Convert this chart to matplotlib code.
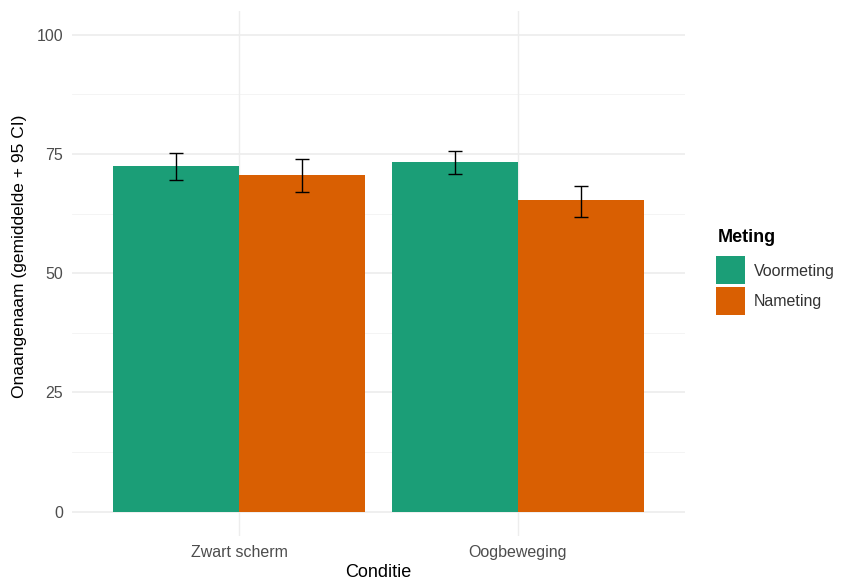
import numpy as np
import matplotlib
matplotlib.use("Agg")
import matplotlib.pyplot as plt
from matplotlib.patches import Rectangle

plt.rcParams['font.family'] = ['Liberation Sans', 'DejaVu Sans']

# data
condities = ["Zwart scherm", "Oogbeweging"]
metingen = ["Voormeting", "Nameting"]
gem_voor = [72.5, 73.3]
gem_na = [70.6, 65.3]
lo_voor = [69.5, 70.7]
hi_voor = [75.1, 75.6]
lo_na = [67.1, 61.8]
hi_na = [74.0, 68.2]
kleuren = ["#1B9E77", "#D95F02"]
y_ticks = [0, 25, 50, 75, 100]

W, H = 842, 581
fig = plt.figure(figsize=(W / 100, H / 100), dpi=100)
ax = fig.add_axes([0.085, 0.0783, 0.729, 0.9031])

x = np.arange(1, len(condities) + 1)
w = 0.45

# grid first (ggplot theme_minimal)
for v in [12.5, 37.5, 62.5, 87.5]:
    ax.axhline(v, color="#F3F3F3", lw=0.6, zorder=0)
for v in y_ticks:
    ax.axhline(v, color="#EBEBEB", lw=1.1, zorder=0)
for xi in x:
    ax.axvline(xi, color="#EDEDED", lw=1.0, zorder=0)

gems = [gem_voor, gem_na]
los = [lo_voor, lo_na]
his = [hi_voor, hi_na]
for i in range(2):
    pos = x + (i - 0.5) * w
    ax.bar(pos, gems[i], width=w, color=kleuren[i], zorder=2)
    lo = np.array(gems[i]) - np.array(los[i])
    hi = np.array(his[i]) - np.array(gems[i])
    ax.errorbar(pos, gems[i], yerr=[lo, hi], fmt="none", ecolor="black",
                elinewidth=1.0, capsize=5, capthick=1.0, zorder=3)

ax.set_xlim(0.4, 2.6)
ax.set_ylim(-5, 105)
ax.set_xticks(x)
ax.set_xticklabels(condities)
ax.set_yticks(y_ticks)
ax.tick_params(length=0, labelsize=11.5, labelcolor="#4D4D4D", pad=6)
ax.tick_params(axis='x', pad=7)
for s in ax.spines.values():
    s.set_visible(False)

ax.set_xlabel("Conditie", fontsize=13)
ax.xaxis.label.set_va("center")
ax.xaxis.set_label_coords(0.5, (535.5 - 572) / 524.7)
ax.set_ylabel("Onaangenaam (gemiddelde + 95 CI)", fontsize=12.5)
ax.yaxis.label.set_va("center")
ax.yaxis.set_label_coords((20 - 71.6) / 613.8, (535.5 - 256) / 524.7)

# legend drawn by hand in figure pixels
fig.text(718 / W, 1 - 237 / H, "Meting", fontsize=13, fontweight="bold",
         va="center", ha="left")
key_top = [256.5, 286.5]
for i in range(2):
    fig.patches.append(Rectangle((716 / W, 1 - (key_top[i] + 28) / H), 29 / W, 28 / H,
                                 transform=fig.transFigure, facecolor=kleuren[i],
                                 edgecolor="none"))
    fig.text(754 / W, 1 - (key_top[i] + 15) / H, metingen[i], fontsize=11.5,
             color="#333333", va="center", ha="left")

fig.savefig("out.png", dpi=100)
